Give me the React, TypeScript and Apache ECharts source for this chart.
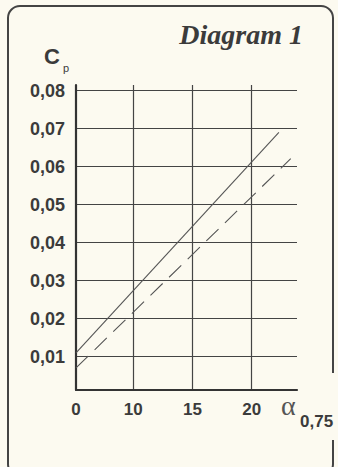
import React, { useEffect, useRef } from "react";
import * as echarts from "echarts";

// x axis is broken: the left end is labelled "0"
const X_START = 5.16;
const X_END = 23.83;
const xTickValues = [5.16, 10, 15, 20];
const xTickLabels = ["0", "10", "15", "20"];
const xGridValues = [10, 15, 20];

const Y_START = 0.0012;
const Y_END = 0.0815;
const yTickValues = [0.01, 0.02, 0.03, 0.04, 0.05, 0.06, 0.07, 0.08];

const solidAlpha = [5.16, 22.3];
const solidCp = [0.011, 0.069];
const dashedAlpha = [5.16, 23.3];
const dashedCp = [0.007, 0.0621];

const BG = "#fcfaf0";
const INK = "#3b3b3b";

export default function App() {
  const ref = useRef<HTMLDivElement>(null);
  useEffect(() => {
    document.body.style.margin = "0";
    document.body.style.background = BG;
    if (!ref.current) return;
    const chart = echarts.init(ref.current, null, { renderer: "svg" });
    const solid = solidAlpha.map((a, i) => [a, solidCp[i]]);
    const dashed = dashedAlpha.map((a, i) => [a, dashedCp[i]]);
    chart.setOption({
      animation: false,
      backgroundColor: BG,
      grid: { left: 76, right: 41, top: 85, bottom: 77, containLabel: false },
      xAxis: {
        type: "value",
        min: X_START,
        max: X_END,
        axisLine: { show: true, lineStyle: { color: "#333", width: 2.2 } },
        axisTick: { show: false, customValues: xGridValues },
        axisLabel: {
          customValues: xTickValues,
          margin: 11,
          color: INK,
          fontFamily: "Liberation Sans, Arial, sans-serif",
          fontWeight: "bold",
          fontSize: 17,
          formatter: (v: number) => {
            const i = xTickValues.findIndex((t) => Math.abs(t - v) < 1e-6);
            return i >= 0 ? xTickLabels[i] : "";
          },
        },
        splitLine: { show: true, lineStyle: { color: "#444", width: 1.2 } },
      },
      yAxis: {
        type: "value",
        min: Y_START,
        max: Y_END,
        axisLine: { show: true, lineStyle: { color: "#333", width: 2.2 } },
        axisTick: { show: false, customValues: yTickValues },
        axisLabel: {
          customValues: yTickValues,
          margin: 11,
          color: INK,
          fontFamily: "Liberation Sans, Arial, sans-serif",
          fontWeight: "bold",
          fontSize: 18,
          formatter: (v: number) => v.toFixed(2).replace(".", ","),
        },
        splitLine: { show: true, lineStyle: { color: "#444", width: 1.2 } },
      },
      series: [
        {
          type: "line",
          data: solid,
          showSymbol: false,
          lineStyle: { color: "#555", width: 1.1 },
        },
        {
          type: "line",
          data: dashed,
          showSymbol: false,
          lineStyle: { color: "#555", width: 1.1, type: [17, 9] },
        },
      ],
      graphic: [
        {
          type: "rect",
          shape: { x: 8, y: 6, width: 325, height: 470, r: 12 },
          style: { fill: "none", stroke: "#444", lineWidth: 2 },
          silent: true,
        },
        {
          type: "rect",
          shape: { x: 328, y: 373, width: 10, height: 67 },
          style: { fill: BG },
          silent: true,
        },
        {
          type: "text",
          x: 303,
          y: 34,
          style: {
            text: "Diagram 1",
            fill: INK,
            fontFamily: "Liberation Serif, Times New Roman, serif",
            fontStyle: "italic",
            fontWeight: "bold",
            fontSize: 28,
            textAlign: "right",
            textVerticalAlign: "middle",
          },
        },
        {
          type: "text",
          x: 44,
          y: 56,
          style: {
            text: "C",
            fill: INK,
            fontFamily: "Liberation Sans, Arial, sans-serif",
            fontWeight: "bold",
            fontSize: 22,
            textAlign: "left",
            textVerticalAlign: "middle",
          },
        },
        {
          type: "text",
          x: 63,
          y: 68,
          style: {
            text: "p",
            fill: INK,
            fontFamily: "Liberation Sans, Arial, sans-serif",
            fontSize: 11,
            textAlign: "left",
            textVerticalAlign: "middle",
          },
        },
        {
          type: "text",
          x: 281,
          y: 405,
          style: {
            text: "α",
            fill: "#555",
            fontFamily: "Liberation Serif, Times New Roman, serif",
            fontSize: 28,
            textAlign: "left",
            textVerticalAlign: "middle",
          },
        },
        {
          type: "text",
          x: 300,
          y: 421,
          style: {
            text: "0,75",
            fill: INK,
            fontFamily: "Liberation Sans, Arial, sans-serif",
            fontWeight: "bold",
            fontSize: 17,
            textAlign: "left",
            textVerticalAlign: "middle",
          },
        },
      ],
    });
    return () => chart.dispose();
  }, []);
  return <div ref={ref} style={{ width: 338, height: 467 }} />;
}
